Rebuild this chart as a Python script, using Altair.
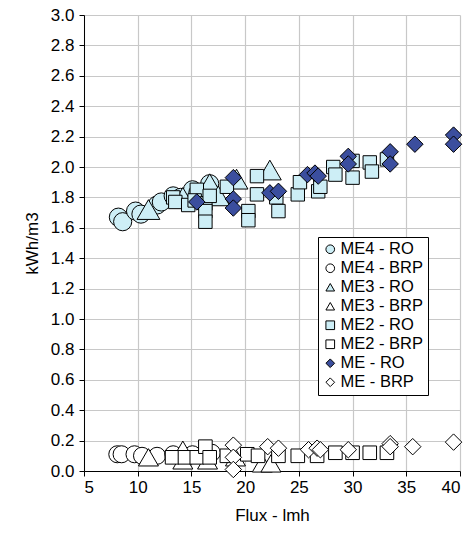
import altair as alt
import pandas as pd

series_names = ["ME4 - RO", "ME4 - BRP", "ME3 - RO", "ME3 - BRP",
                "ME2 - RO", "ME2 - BRP", "ME - RO", "ME - BRP"]

me4_ro_x = [8.2, 8.6, 9.8, 10.3, 11.8, 12.2, 13.3, 14.0, 15.1, 15.6, 16.7]
me4_ro_y = [1.67, 1.64, 1.71, 1.69, 1.75, 1.77, 1.81, 1.80, 1.85, 1.83, 1.89]

me4_brp_x = [8.1, 8.5, 9.7, 10.4, 11.8, 13.3, 15.1, 16.9]
me4_brp_y = [0.11, 0.11, 0.11, 0.10, 0.10, 0.11, 0.11, 0.12]

me3_ro_x = [11.0, 14.2, 16.7, 17.5, 19.2, 22.3]
me3_ro_y = [1.72, 1.80, 1.89, 1.81, 1.92, 1.98]

me3_brp_x = [11.0, 14.2, 14.2, 16.5, 19.1, 21.6, 22.4]
me3_brp_y = [0.09, 0.14, 0.07, 0.07, 0.09, 0.05, 0.05]

me2_ro_x = [13.3, 13.5, 14.7, 15.5, 15.3, 16.3, 16.3, 16.3, 16.7, 18.3, 20.3, 20.3,
            21.1, 21.1, 22.9, 23.1, 24.9, 25.1, 26.8, 27.0, 28.2, 28.4, 30.0, 30.0,
            31.6, 31.8, 33.2]
me2_ro_y = [1.80, 1.77, 1.75, 1.85, 1.78, 1.76, 1.71, 1.64, 1.81, 1.87, 1.71, 1.65,
            1.94, 1.82, 1.80, 1.71, 1.82, 1.90, 1.84, 1.87, 2.00, 1.95, 2.04, 1.93,
            2.03, 1.97, 2.05]

me2_brp_x = [13.2, 14.4, 15.5, 16.3, 16.7, 18.3, 20.2, 21.2, 23.1, 24.9, 26.7, 28.4,
             30.0, 31.6, 33.2]
me2_brp_y = [0.09, 0.09, 0.09, 0.16, 0.09, 0.10, 0.11, 0.10, 0.10, 0.10, 0.10, 0.12,
             0.12, 0.12, 0.12]

me_ro_x = [15.5, 18.9, 18.9, 18.9, 22.3, 23.1, 25.8, 26.5, 26.8, 29.6, 29.6, 33.5,
           33.5, 35.8, 39.4, 39.4]
me_ro_y = [1.77, 1.93, 1.79, 1.73, 1.83, 1.84, 1.95, 1.96, 1.94, 2.07, 2.02, 2.10,
           2.02, 2.15, 2.21, 2.15]

me_brp_x = [18.9, 18.9, 18.9, 22.1, 23.1, 25.9, 26.7, 27.0, 29.6, 33.5, 33.5, 35.6, 39.4]
me_brp_y = [0.17, 0.09, 0.01, 0.16, 0.15, 0.14, 0.15, 0.14, 0.14, 0.18, 0.16, 0.16, 0.19]

x_ticks = [5, 10, 15, 20, 25, 30, 35, 40]
y_ticks = [0.0, 0.2, 0.4, 0.6, 0.8, 1.0, 1.2, 1.4, 1.6, 1.8, 2.0, 2.2, 2.4, 2.6, 2.8, 3.0]

all_x = [me4_ro_x, me4_brp_x, me3_ro_x, me3_brp_x, me2_ro_x, me2_brp_x, me_ro_x, me_brp_x]
all_y = [me4_ro_y, me4_brp_y, me3_ro_y, me3_brp_y, me2_ro_y, me2_brp_y, me_ro_y, me_brp_y]

rows = []
order = 0
for name, xs, ys in zip(series_names, all_x, all_y):
    for xv, yv in zip(xs, ys):
        rows.append({"series": name, "flux": xv, "energy": yv, "ord": order})
        order += 1
df = pd.DataFrame(rows)

light = "#cdeef6"
dark = "#3b4e9e"
fills = [light, "white", light, "white", light, "white", dark, "white"]
strokes = ["black"] * len(series_names)
shapes = ["circle", "circle", "triangle-up", "triangle-up", "square", "square",
          "diamond", "diamond"]
marker_px = {"ME4 - RO": 330, "ME4 - BRP": 290, "ME3 - RO": 520, "ME3 - BRP": 400,
             "ME2 - RO": 180, "ME2 - BRP": 185, "ME - RO": 270, "ME - BRP": 270}
size_expr = "".join(
    f"datum.series === '{k}' ? {v} : " for k, v in marker_px.items()
) + "100"

font = "Liberation Sans"

legend = alt.Legend(
    title=None, orient="none", legendX=234, legendY=222,
    strokeColor="black", fillColor="white", padding=4,
    labelFont=font, labelFontSize=16.5, labelColor="black",
    symbolSize=75, symbolStrokeWidth=1,
    rowPadding=2, labelOffset=2, cornerRadius=0,
)

chart = alt.Chart(df).transform_calculate(
    msize=size_expr
).mark_point(filled=True, strokeWidth=1, opacity=1).encode(
    x=alt.X("flux:Q", title="Flux - lmh",
            scale=alt.Scale(domain=[5, 40], nice=False),
            axis=alt.Axis(values=x_ticks, format="d")),
    y=alt.Y("energy:Q", title="kWh/m3",
            scale=alt.Scale(domain=[0, 3.0], nice=False),
            axis=alt.Axis(values=y_ticks, format=".1f")),
    shape=alt.Shape("series:N", scale=alt.Scale(domain=series_names, range=shapes),
                    legend=legend),
    fill=alt.Fill("series:N", scale=alt.Scale(domain=series_names, range=fills),
                  legend=legend),
    stroke=alt.Stroke("series:N", scale=alt.Scale(domain=series_names, range=strokes),
                      legend=legend),
    size=alt.Size("msize:Q", scale=None, legend=None),
    order=alt.Order("ord:Q"),
).properties(
    width=376, height=456,
    padding={"left": 84, "top": 15, "right": 12, "bottom": 62},
    autosize=alt.AutoSizeParams(type="none"),
).configure_view(
    stroke=None
).configure_axis(
    labelFont=font, titleFont=font, labelFontSize=17, titleFontSize=17,
    labelColor="black", titleColor="black", titleFontWeight="normal",
    domainColor="black", tickColor="black", tickSize=5,
    gridColor="#c8c8c8", gridWidth=1.2,
).configure_axisY(
    titlePadding=9, labelPadding=5,
).configure_axisX(
    titlePadding=12, labelPadding=3,
)

chart.save("out.html", embed_options={"renderer": "svg", "actions": False})
